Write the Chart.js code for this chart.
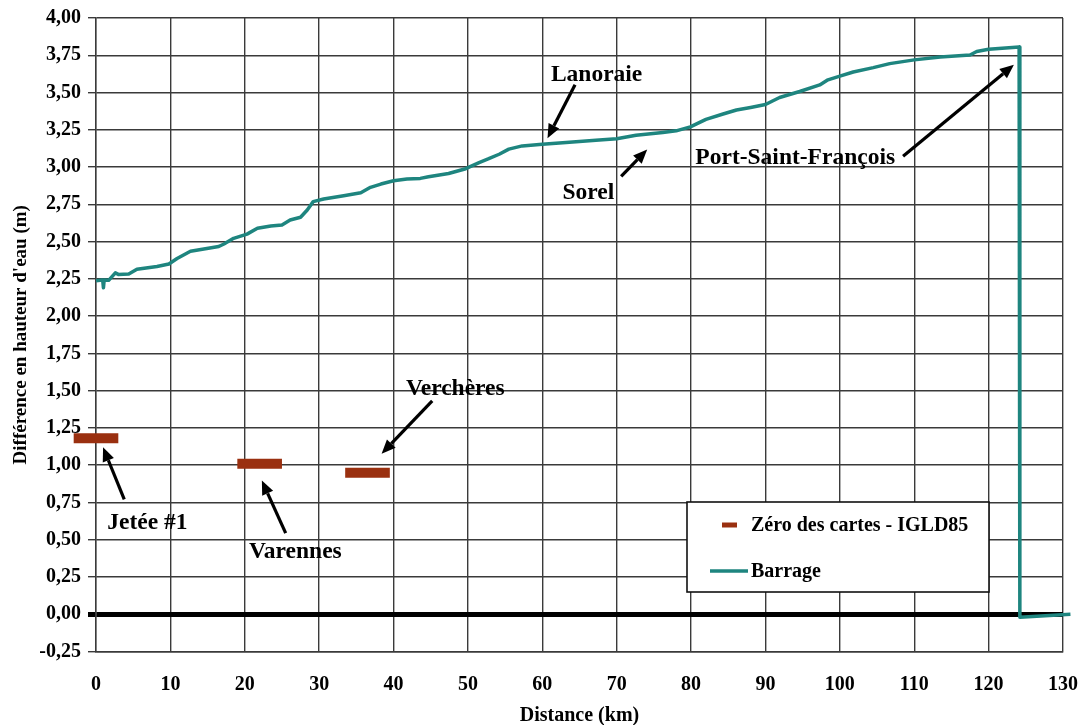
<!DOCTYPE html>
<html lang="fr">
<head>
<meta charset="utf-8">
<title>Différence en hauteur d'eau</title>
<script src="https://cdn.jsdelivr.net/npm/chart.js@4/dist/chart.umd.min.js"></script>
<style>
  html, body { margin: 0; padding: 0; background: #ffffff; }
  #wrap { width: 1081px; height: 725px; }
</style>
</head>
<body>
<div id="wrap"><canvas id="chart" width="1081" height="725"></canvas></div>
<script>
// Profil du niveau d'eau (Barrage) le long du fleuve
const barrageKm = [0, 0.8, 0.9, 1.0, 1.1, 1.7, 2.6, 3.0, 4.4, 5.5, 8.2, 9.8, 10.9, 12.7, 14.5, 16.5, 17.2, 18.5, 20.3, 21.7, 23.5, 25.0, 26.1, 27.5, 28.4, 29.2, 30.6, 33.3, 35.6, 36.9, 38.3, 40.0, 41.8, 43.6, 44.7, 47.4, 49.7, 51.5, 52.8, 54.2, 55.5, 57.3, 60.0, 63.2, 67.2, 70.0, 72.6, 76.2, 78.0, 79.9, 82.0, 84.3, 86.1, 88.0, 90.0, 91.9, 94.6, 97.3, 98.4, 100.0, 101.8, 104.5, 106.7, 110.0, 113.5, 117.5, 118.4, 120.0, 124.1, 124.2, 131.0];
const barrageLevel = [2.237, 2.243, 2.243, 2.19, 2.243, 2.24, 2.29, 2.28, 2.283, 2.315, 2.333, 2.35, 2.386, 2.435, 2.45, 2.467, 2.484, 2.522, 2.55, 2.589, 2.605, 2.612, 2.645, 2.663, 2.712, 2.768, 2.786, 2.808, 2.828, 2.864, 2.886, 2.908, 2.92, 2.924, 2.935, 2.957, 2.989, 3.03, 3.056, 3.086, 3.12, 3.142, 3.153, 3.164, 3.18, 3.19, 3.214, 3.232, 3.243, 3.27, 3.32, 3.356, 3.383, 3.40, 3.42, 3.467, 3.507, 3.551, 3.585, 3.61, 3.638, 3.667, 3.694, 3.719, 3.739, 3.752, 3.775, 3.79, 3.806, -0.02, 0.0];

// Zéro des cartes (IGLD85) aux stations
const zeroSites = ['Jetée #1', 'Varennes', 'Verchères'];
const zeroKm = [0, 22, 36.5];
const zeroLevel = [1.18, 1.01, 0.95];
const zeroHalfSpanKm = 3;

// Graduations
const xTickValues = [0, 10, 20, 30, 40, 50, 60, 70, 80, 90, 100, 110, 120, 130];
const yTickValues = [-0.25, 0, 0.25, 0.5, 0.75, 1, 1.25, 1.5, 1.75, 2, 2.25, 2.5, 2.75, 3, 3.25, 3.5, 3.75, 4];

const seriesLabels = ['Zéro des cartes - IGLD85', 'Barrage'];
const axisTitles = { x: 'Distance (km)', y: "Différence en hauteur d'eau (m)" };

// Étiquettes fléchées (texte en coordonnées km / m)
const callouts = [
  { text: 'Lanoraie', tx: 67.3, ty: 3.578, from: [64.4, 3.552], to: [60.7, 3.193] },
  { text: 'Sorel', tx: 66.2, ty: 2.785, from: [70.6, 2.938], to: [74.1, 3.117] },
  { text: 'Port-Saint-François', tx: 94.0, ty: 3.022, from: [108.5, 3.072], to: [123.4, 3.686] },
  { text: 'Verchères', tx: 48.3, ty: 1.47, from: [45.2, 1.432], to: [38.4, 1.076] },
  { text: 'Jetée #1', tx: 6.9, ty: 0.574, from: [3.8, 0.77], to: [0.95, 1.12] },
  { text: 'Varennes', tx: 26.8, ty: 0.38, from: [25.5, 0.544], to: [22.3, 0.897] }
];

const TEAL = '#1e857f';
const BROWN = '#9a3010';
const GRID = '#3a3a3a';
const SERIF = "'Liberation Serif', 'Times New Roman', 'DejaVu Serif', serif";

const barragePoints = barrageKm.map((km, i) => ({ x: km, y: barrageLevel[i] }));
const zeroPoints = [];
zeroKm.forEach((km, i) => {
  zeroPoints.push({ x: km - zeroHalfSpanKm, y: zeroLevel[i] });
  zeroPoints.push({ x: km + zeroHalfSpanKm, y: zeroLevel[i] });
  zeroPoints.push({ x: km, y: null });
});

const fmt = v => v.toFixed(2).replace('.', ',');

function drawArrow(ctx, x1, y1, x2, y2) {
  const ang = Math.atan2(y2 - y1, x2 - x1);
  const headLen = 14, headW = 6;
  const bx = x2 - headLen * Math.cos(ang), by = y2 - headLen * Math.sin(ang);
  ctx.beginPath();
  ctx.moveTo(x1, y1);
  ctx.lineTo(bx, by);
  ctx.lineWidth = 3.2;
  ctx.strokeStyle = '#000';
  ctx.lineCap = 'butt';
  ctx.stroke();
  ctx.beginPath();
  ctx.moveTo(x2, y2);
  ctx.lineTo(bx + headW * Math.sin(ang), by - headW * Math.cos(ang));
  ctx.lineTo(bx - headW * Math.sin(ang), by + headW * Math.cos(ang));
  ctx.closePath();
  ctx.fillStyle = '#000';
  ctx.fill();
}

const calloutPlugin = {
  id: 'callouts',
  afterDatasetsDraw(chart) {
    const { ctx, scales: { x, y } } = chart;
    ctx.save();
    ctx.font = 'bold 23.5px ' + SERIF;
    ctx.textAlign = 'center';
    ctx.textBaseline = 'alphabetic';
    ctx.fillStyle = '#000';
    callouts.forEach(c => {
      ctx.fillText(c.text, x.getPixelForValue(c.tx), y.getPixelForValue(c.ty));
      drawArrow(ctx,
        x.getPixelForValue(c.from[0]), y.getPixelForValue(c.from[1]),
        x.getPixelForValue(c.to[0]), y.getPixelForValue(c.to[1]));
    });
    ctx.restore();
  }
};

// Légende encadrée, placée dans la zone de tracé
const boxLegendPlugin = {
  id: 'boxLegend',
  afterDatasetsDraw(chart) {
    const { ctx, chartArea } = chart;
    const left = chartArea.left + 591, top = chartArea.top + 484;
    const w = 302, h = 90;
    ctx.save();
    ctx.fillStyle = '#ffffff';
    ctx.fillRect(left, top, w, h);
    ctx.lineWidth = 1.6;
    ctx.strokeStyle = '#111';
    ctx.strokeRect(left, top, w, h);
    ctx.font = 'bold 20px ' + SERIF;
    ctx.textAlign = 'left';
    ctx.textBaseline = 'middle';
    ctx.fillStyle = '#000';
    const ds = chart.data.datasets;
    // Zéro des cartes
    const y1 = top + 23;
    ctx.strokeStyle = ds[0].borderColor;
    ctx.lineWidth = 5;
    ctx.beginPath(); ctx.moveTo(left + 35, y1); ctx.lineTo(left + 50, y1); ctx.stroke();
    ctx.fillText(ds[0].label, left + 64, y1 + 1);
    // Barrage
    const y2 = top + 69;
    ctx.strokeStyle = ds[1].borderColor;
    ctx.lineWidth = 3.5;
    ctx.beginPath(); ctx.moveTo(left + 23, y2); ctx.lineTo(left + 61, y2); ctx.stroke();
    ctx.fillText(ds[1].label, left + 64, y2 + 1);
    ctx.restore();
  }
};

Chart.defaults.font.family = SERIF;
Chart.defaults.font.weight = 'bold';
Chart.defaults.color = '#000';

new Chart(document.getElementById('chart'), {
  type: 'scatter',
  data: {
    datasets: [
      {
        label: seriesLabels[0],
        data: zeroPoints,
        showLine: true,
        spanGaps: false,
        borderColor: BROWN,
        backgroundColor: BROWN,
        borderWidth: 10,
        borderCapStyle: 'butt',
        pointRadius: 0,
        clip: false
      },
      {
        label: seriesLabels[1],
        data: barragePoints,
        showLine: true,
        borderColor: TEAL,
        backgroundColor: TEAL,
        borderWidth: 3.5,
        borderJoinStyle: 'round',
        pointRadius: 0,
        tension: 0,
        clip: false
      }
    ]
  },
  options: {
    responsive: false,
    animation: false,
    events: [],
    layout: { padding: { top: 18, right: 18, left: 0, bottom: 0 } },
    plugins: { legend: { display: false }, tooltip: { enabled: false } },
    scales: {
      x: {
        type: 'linear',
        min: 0,
        max: 130,
        afterBuildTicks: s => { s.ticks = xTickValues.map(v => ({ value: v })); },
        afterFit: s => { s.height = 73.5; s.paddingLeft = 0; s.paddingRight = 0; },
        ticks: { padding: 21, font: { size: 20, weight: 'bold' }, color: '#000', maxRotation: 0 },
        grid: { color: GRID, lineWidth: 1.4, drawTicks: false },
        border: { color: GRID, width: 1.4 },
        title: { display: true, text: axisTitles.x, font: { size: 20, weight: 'bold' }, color: '#000', padding: { top: 0, bottom: -3 } }
      },
      y: {
        type: 'linear',
        min: -0.25,
        max: 4,
        afterBuildTicks: s => { s.ticks = yTickValues.map(v => ({ value: v })); },
        afterFit: s => { s.width = 96; s.paddingTop = 0; s.paddingBottom = 0; },
        ticks: { padding: 7, font: { size: 20, weight: 'bold' }, color: '#000', callback: v => fmt(v) },
        grid: {
          color: ctx => (ctx.tick && Math.abs(ctx.tick.value) < 1e-9) ? '#000' : GRID,
          lineWidth: ctx => (ctx.tick && Math.abs(ctx.tick.value) < 1e-9) ? 5 : 1.4,
          tickLength: 8,
          drawTicks: true
        },
        border: { color: GRID, width: 1.4 },
        title: { display: true, text: axisTitles.y, font: { size: 19, weight: 'bold' }, color: '#000', padding: { top: 9.5, bottom: 0 } }
      }
    }
  },
  plugins: [calloutPlugin, boxLegendPlugin]
});
</script>
</body>
</html>
